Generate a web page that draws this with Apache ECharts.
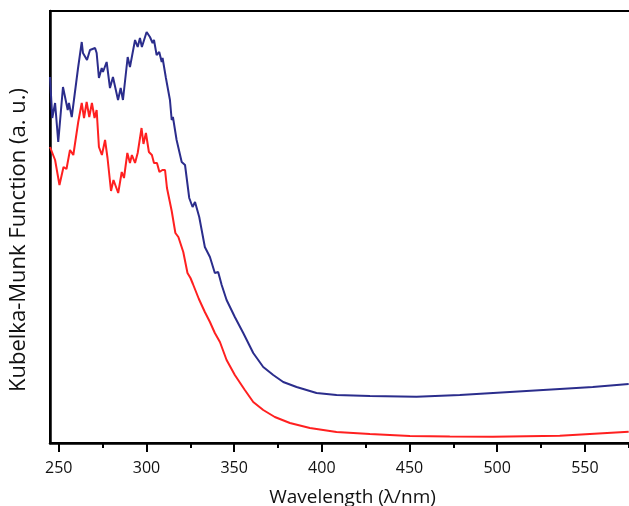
<!DOCTYPE html>
<html>
<head>
<meta charset="utf-8">
<script src="https://cdn.jsdelivr.net/npm/echarts@6/dist/echarts.min.js"></script>
<style>html,body{margin:0;padding:0;background:#fff;overflow:hidden;}#c{width:629px;height:506px;}</style>
</head>
<body>
<div id="c"></div>
<script>
// Wavelength (nm) and Kubelka-Munk values (arbitrary units)
const blueWl = [245.0,246.3,247.9,249.7,252.4,255.1,255.8,257.4,261.0,263.1,263.8,266.1,267.8,270.7,271.6,272.9,274.5,275.2,277.3,279.2,280.9,283.8,285.3,286.6,289.3,290.6,293.5,295.0,296.3,297.4,300.1,302.0,303.5,304.3,305.8,307.3,308.7,309.2,311.1,313.4,314.4,315.1,317.2,320.1,322.0,324.4,326.3,327.7,330.1,333.3,336.2,339.0,340.9,342.9,345.7,350.4,355.2,360.9,366.6,372.3,378.0,385.6,397.0,408.4,427.4,454.0,478.7,507.2,535.7,554.5,575.0];
const blueVal = [366,325,340,301,356,333,340,326,375,401,390,383,393,395,390,365,375,371,381,355,366,343,355,343,386,376,403,396,405,396,411,406,400,403,388,391,381,385,365,343,323,326,303,281,278,245,236,241,226,196,186,170,171,158,143,126,110,90,76,68,61,56,50,48,47,46.3,48,51,54,56,59];
const redWl = [245.0,247.9,250.4,252.7,254.4,256.4,258.3,261.1,263.1,264.4,265.9,267.4,268.9,270.4,271.6,272.9,274.6,276.4,277.8,279.8,281.2,283.9,285.9,287.2,289.1,290.6,291.7,293.5,295.0,297.2,298.3,299.7,301.4,303.1,304.3,306.0,307.4,309.1,310.6,311.7,314.4,315.3,316.5,318.2,321.0,323.4,325.1,326.5,329.9,333.3,336.2,339.0,341.9,345.7,350.4,356.1,360.9,366.6,373.2,381.8,393.2,408.4,427.4,450.2,473.0,497.5,535.7,575.0];
const redVal = [296,283,258,276,274,293,288,321,340,325,341,326,340,325,333,296,288,303,285,252,263,250,271,265,290,280,288,280,290,315,299,310,291,288,280,280,271,273,273,255,232,231,210,206,191,170,165,159,144,131,121,110,101,83,68,53,41,33,26,20,15,11,9,7,6.5,6.3,7.3,11.3];
const tickLabels = [250,300,350,400,450,500,550];
const minorTicks = [275,325,375,425,475,525,575];
const xName = 'Wavelength (λ/nm)';
const yName = 'Kubelka-Munk Function (a. u.)';

const FONT = '"Open Sans", "DejaVu Sans", sans-serif';
const chart = echarts.init(document.getElementById('c'), null, {renderer: 'canvas'});
const pair = (xs, ys) => xs.map((x, i) => [x, ys[i]]);
chart.setOption({
  animation: false,
  backgroundColor: '#ffffff',
  grid: {left: 50, width: 605, top: 11, bottom: 63, outerBoundsMode: 'none', containLabel: false,
         show: true, borderColor: '#000', borderWidth: 2},
  xAxis: [{
    type: 'value', min: 245, max: 590,
    name: xName, nameLocation: 'middle', nameGap: 45,
    nameTextStyle: {fontFamily: FONT, fontSize: 19, color: '#111'},
    axisLine: {show: true, onZero: false, lineStyle: {color: '#000', width: 2.5}},
    axisTick: {show: true, customValues: tickLabels, length: 9, inside: false, lineStyle: {color: '#000', width: 2}},
    axisLabel: {show: true, customValues: tickLabels, margin: 17, fontFamily: FONT, fontSize: 16, color: '#111'},
    splitLine: {show: false}
  }, {
    type: 'value', min: 245, max: 590, position: 'bottom', gridIndex: 0,
    axisLine: {show: false},
    axisTick: {show: true, customValues: minorTicks, length: 5, lineStyle: {color: '#000', width: 2}},
    axisLabel: {show: false},
    splitLine: {show: false}
  }],
  yAxis: {
    type: 'value', min: 0, max: 432,
    name: yName, nameLocation: 'middle', nameGap: 20,
    nameTextStyle: {fontFamily: FONT, fontSize: 22, color: '#111', padding: [0, 26, 0, 0]},
    axisLine: {show: true, lineStyle: {color: '#000', width: 2.5}},
    axisTick: {show: false},
    axisLabel: {show: false},
    splitLine: {show: false}
  },
  series: [{
    type: 'line', name: 'blue', data: pair(blueWl, blueVal), showSymbol: false,
    lineStyle: {color: '#2b2d8c', width: 2}, z: 3
  }, {
    type: 'line', name: 'red', data: pair(redWl, redVal), showSymbol: false,
    lineStyle: {color: '#ff2020', width: 2}, z: 3
  }]
});
</script>
</body>
</html>
